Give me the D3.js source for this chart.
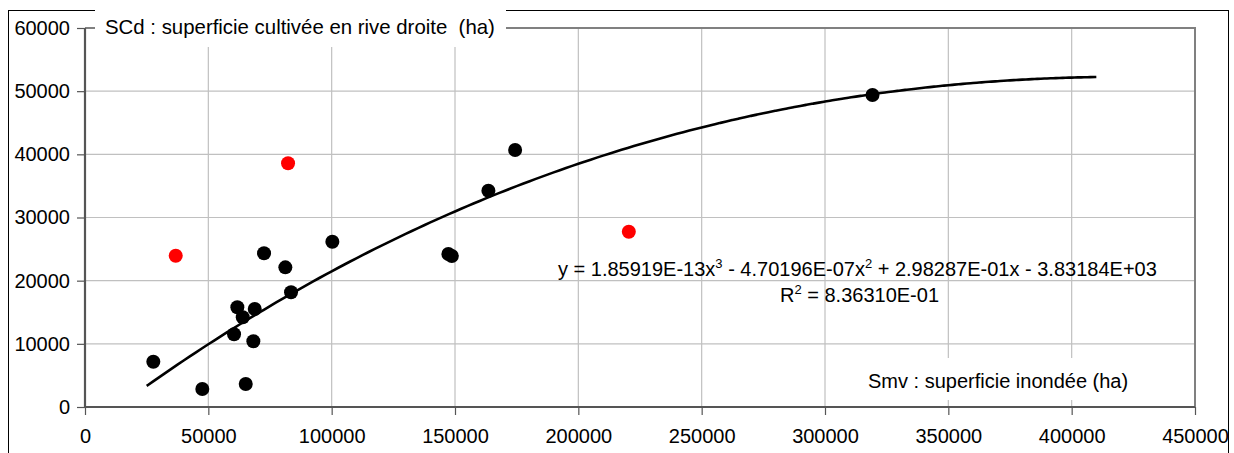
<!DOCTYPE html>
<html><head><meta charset="utf-8">
<script src="https://cdn.jsdelivr.net/npm/d3@7"></script>
<style>html,body{margin:0;padding:0;background:#fff;}svg{display:block;}</style>
</head><body>
<svg id="chart" width="1234" height="453"></svg>
<script>
// ---- data ----
const blackX = [27700, 47560, 60420, 61760, 63950, 65160, 68250, 68810, 72580, 81220, 83530, 100280, 147320, 148700, 163540, 174370, 319250];
const blackY = [7170, 2850, 11510, 15780, 14200, 3640, 10400, 15510, 24330, 22110, 18160, 26170, 24220, 23900, 34240, 40680, 49390];
const redX = [36780, 82320, 220470];
const redY = [23950, 38580, 27750];
const xTicks = [0, 50000, 100000, 150000, 200000, 250000, 300000, 350000, 400000, 450000];
const yTicks = [0, 10000, 20000, 30000, 40000, 50000, 60000];
const trendCoef = [1.85919e-13, -4.70196e-07, 2.98287e-01, -3.83184e+03]; // x^3, x^2, x, 1
const trendRange = [25000, 410000];
const yTitle = "SCd : superficie cultivée en rive droite  (ha)";
const xTitle = "Smv : superficie inondée (ha)";

const svg = d3.select("#chart");
const font = "'Liberation Sans', Arial, sans-serif";
const x = d3.scaleLinear().domain([0, 450000]).range([85, 1195]);
const y = d3.scaleLinear().domain([0, 60000]).range([407, 28]);

// outer frame
svg.append("rect").attr("x", 8.5).attr("y", 10.5).attr("width", 1220).attr("height", 460)
  .attr("fill", "#fff").attr("stroke", "#000").attr("stroke-width", 1);

// gridlines
svg.append("g").selectAll("line").data(yTicks.filter(d => d > 0 && d < 60000)).join("line")
  .attr("x1", x(0)).attr("x2", x(450000)).attr("y1", d => y(d)).attr("y2", d => y(d))
  .attr("stroke", "#c0c0c0").attr("stroke-width", 1.2);
svg.append("g").selectAll("line").data(xTicks.filter(d => d > 0 && d < 450000)).join("line")
  .attr("y1", y(0)).attr("y2", y(60000)).attr("x1", d => x(d)).attr("x2", d => x(d))
  .attr("stroke", "#c0c0c0").attr("stroke-width", 1.2);

// plot border top & right
svg.append("path").attr("d", `M${x(0)},${y(60000)}H${x(450000)}V${y(0)}`)
  .attr("fill", "none").attr("stroke", "#808080").attr("stroke-width", 2);

// axes
const yAxis = d3.axisLeft(y).tickValues(yTicks).tickSize(8).tickPadding(7).tickFormat(d3.format("d"));
const gy = svg.append("g").attr("transform", `translate(${x(0)},0)`).call(yAxis);
const xAxis = d3.axisBottom(x).tickValues(xTicks).tickSize(8).tickPadding(14).tickFormat(d3.format("d"));
const gx = svg.append("g").attr("transform", `translate(0,${y(0)})`).call(xAxis);
[gx, gy].forEach(g => {
  g.select(".domain").attr("stroke", "#555").attr("stroke-width", 2.2);
  g.selectAll(".tick line").attr("stroke", "#555").attr("stroke-width", 1.2);
  g.selectAll("text").attr("font-family", font).attr("font-size", 20).attr("fill", "#000");
});
gx.select(".domain").attr("d", `M${x(0)},0H${x(450000)}`);
gy.select(".domain").attr("d", `M0,${y(60000)}V${y(0)}`);

// trend curve
const poly = v => ((trendCoef[0] * v + trendCoef[1]) * v + trendCoef[2]) * v + trendCoef[3];
const xs = d3.range(trendRange[0], trendRange[1] + 1, 2500);
svg.append("path").datum(xs)
  .attr("d", d3.line().x(d => x(d)).y(d => y(poly(d))).curve(d3.curveBasis))
  .attr("fill", "none").attr("stroke", "#000").attr("stroke-width", 2.6);

// points
svg.append("g").selectAll("circle").data(blackX.map((v, i) => [v, blackY[i]])).join("circle")
  .attr("cx", d => x(d[0])).attr("cy", d => y(d[1])).attr("r", 7).attr("fill", "#000");
svg.append("g").selectAll("circle").data(redX.map((v, i) => [v, redY[i]])).join("circle")
  .attr("cx", d => x(d[0])).attr("cy", d => y(d[1])).attr("r", 7).attr("fill", "#ff0000");

// title box (y axis title)
svg.append("rect").attr("x", 95).attr("y", 0).attr("width", 411).attr("height", 47).attr("fill", "#fff");
svg.append("text").attr("x", 105).attr("y", 34).attr("font-family", font).attr("font-size", 20.4)
  .attr("xml:space", "preserve").style("white-space", "pre").text(yTitle);

// x axis title box
svg.append("rect").attr("x", 855).attr("y", 358).attr("width", 290).attr("height", 42).attr("fill", "#fff");
svg.append("text").attr("x", 868).attr("y", 388).attr("font-family", font).attr("font-size", 20).text(xTitle);

// equation
const eq = svg.append("text").attr("x", 558).attr("y", 276).attr("font-family", font).attr("font-size", 20);
const parts = [["y = 1.85919E-13x", 0], ["3", 1], [" - 4.70196E-07x", 0], ["2", 1], [" + 2.98287E-01x - 3.83184E+03", 0]];
let prevSup = 0;
parts.forEach(([t, s]) => {
  const ts = eq.append("tspan").text(t).attr("xml:space", "preserve").style("white-space", "pre");
  if (s) { ts.attr("font-size", 13).attr("dy", -8); prevSup = 1; }
  else if (prevSup) { ts.attr("dy", 8); prevSup = 0; }
});
const r2 = svg.append("text").attr("x", 780).attr("y", 302).attr("font-family", font).attr("font-size", 20);
r2.append("tspan").text("R");
r2.append("tspan").text("2").attr("font-size", 13).attr("dy", -8);
r2.append("tspan").text(" = 8.36310E-01").attr("dy", 8).style("white-space", "pre");
</script>
</body></html>
